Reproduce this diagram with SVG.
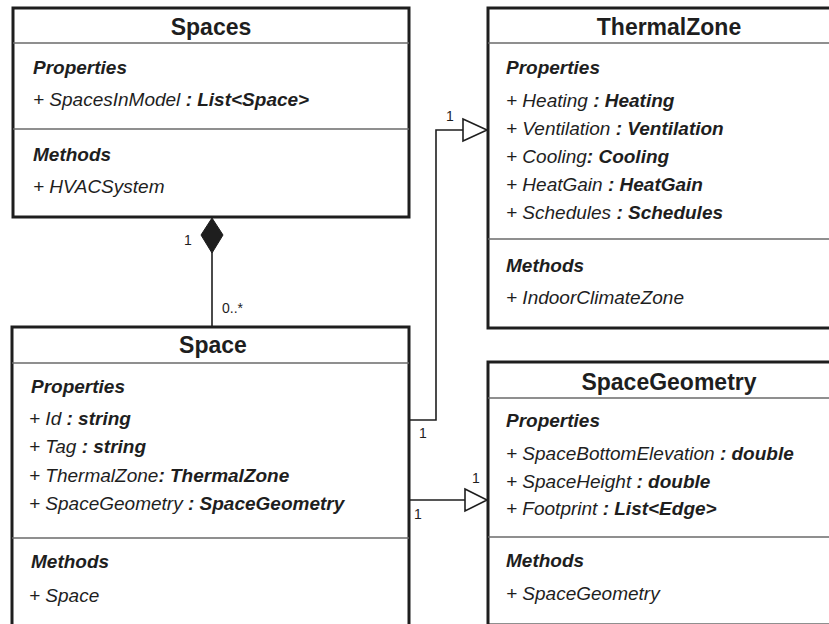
<svg xmlns="http://www.w3.org/2000/svg" width="829" height="624" viewBox="0 0 829 624">
  <style>
    .box { fill: #ffffff; stroke: #1e1e1e; stroke-width: 3; }
    .div { stroke: #6a6a6a; stroke-width: 1.6; fill: none; }
    .title { font-family: "Liberation Sans", Arial, sans-serif; font-weight: bold; font-size: 23px; fill: #1e1e1e; text-anchor: middle; }
    .sec { font-family: "Liberation Sans", Arial, sans-serif; font-weight: bold; font-style: italic; font-size: 19px; fill: #1e1e1e; }
    .item { font-family: "Liberation Sans", Arial, sans-serif; font-style: italic; font-size: 19px; fill: #1e1e1e; }
    .item .t { font-weight: bold; }
    .line { stroke: #1e1e1e; stroke-width: 1.6; fill: none; }
    .mult { font-family: "Liberation Sans", Arial, sans-serif; font-size: 14px; fill: #1e1e1e; }
  </style>

  <rect width="829" height="624" fill="#ffffff"/>

  <g id="connectors">
    <!-- Spaces ◆— Space (composition) -->
    <line class="line" x1="212" y1="252" x2="212" y2="327"/>
    <polygon points="212,218 223,235 212,253 201,235" fill="#1e1e1e" stroke="#1e1e1e" stroke-width="1"/>
    <text class="mult" x="184" y="245">1</text>
    <text class="mult" x="222" y="313">0..*</text>

    <!-- Space → ThermalZone -->
    <polyline class="line" points="409,420 436,420 436,130 463,130"/>
    <polygon points="463,119 487,130 463,141" fill="#ffffff" stroke="#1e1e1e" stroke-width="1.6"/>
    <text class="mult" x="446" y="121">1</text>
    <text class="mult" x="419" y="438">1</text>

    <!-- Space → SpaceGeometry -->
    <line class="line" x1="409" y1="500" x2="465" y2="500"/>
    <polygon points="465,489 487,500 465,511" fill="#ffffff" stroke="#1e1e1e" stroke-width="1.6"/>
    <text class="mult" x="472" y="483">1</text>
    <text class="mult" x="414" y="519">1</text>
  </g>

  <g id="Spaces">
    <rect class="box" x="13" y="8" width="396" height="209"/>
    <line class="div" x1="13" y1="43" x2="409" y2="43"/>
    <line class="div" x1="13" y1="129" x2="409" y2="129"/>
    <text class="title" x="211" y="35">Spaces</text>
    <text class="sec" x="33" y="74">Properties</text>
    <text class="item" x="33" y="106">+ SpacesInModel <tspan class="t">: List&lt;Space&gt;</tspan></text>
    <text class="sec" x="33" y="161">Methods</text>
    <text class="item" x="33" y="193">+ HVACSystem</text>
  </g>

  <g id="ThermalZone">
    <rect class="box" x="488" y="8" width="370" height="320"/>
    <line class="div" x1="488" y1="43" x2="858" y2="43"/>
    <line class="div" x1="488" y1="239" x2="858" y2="239"/>
    <text class="title" x="669" y="35">ThermalZone</text>
    <text class="sec" x="506" y="74">Properties</text>
    <text class="item" x="506" y="107">+ Heating <tspan class="t">: Heating</tspan></text>
    <text class="item" x="506" y="135">+ Ventilation <tspan class="t">: Ventilation</tspan></text>
    <text class="item" x="506" y="163">+ Cooling<tspan class="t">: Cooling</tspan></text>
    <text class="item" x="506" y="191">+ HeatGain <tspan class="t">: HeatGain</tspan></text>
    <text class="item" x="506" y="219">+ Schedules <tspan class="t">: Schedules</tspan></text>
    <text class="sec" x="506" y="272">Methods</text>
    <text class="item" x="506" y="304">+ IndoorClimateZone</text>
  </g>

  <g id="Space">
    <rect class="box" x="12" y="327" width="397" height="320"/>
    <line class="div" x1="12" y1="363" x2="409" y2="363"/>
    <line class="div" x1="12" y1="538" x2="409" y2="538"/>
    <text class="title" x="213" y="353">Space</text>
    <text class="sec" x="31" y="393">Properties</text>
    <text class="item" x="29" y="425">+ Id <tspan class="t">: string</tspan></text>
    <text class="item" x="29" y="453">+ Tag <tspan class="t">: string</tspan></text>
    <text class="item" x="29" y="482">+ ThermalZone<tspan class="t">: ThermalZone</tspan></text>
    <text class="item" x="29" y="510">+ SpaceGeometry <tspan class="t">: SpaceGeometry</tspan></text>
    <text class="sec" x="31" y="568">Methods</text>
    <text class="item" x="29" y="602">+ Space</text>
  </g>

  <g id="SpaceGeometry">
    <rect class="box" x="488" y="362" width="370" height="263"/>
    <line class="div" x1="488" y1="398" x2="858" y2="398"/>
    <line class="div" x1="488" y1="537" x2="858" y2="537"/>
    <text class="title" x="669" y="390">SpaceGeometry</text>
    <text class="sec" x="506" y="427">Properties</text>
    <text class="item" x="506" y="460">+ SpaceBottomElevation <tspan class="t">: double</tspan></text>
    <text class="item" x="506" y="488">+ SpaceHeight <tspan class="t">: double</tspan></text>
    <text class="item" x="506" y="515">+ Footprint <tspan class="t">: List&lt;Edge&gt;</tspan></text>
    <text class="sec" x="506" y="567">Methods</text>
    <text class="item" x="506" y="600">+ SpaceGeometry</text>
  </g>
</svg>
